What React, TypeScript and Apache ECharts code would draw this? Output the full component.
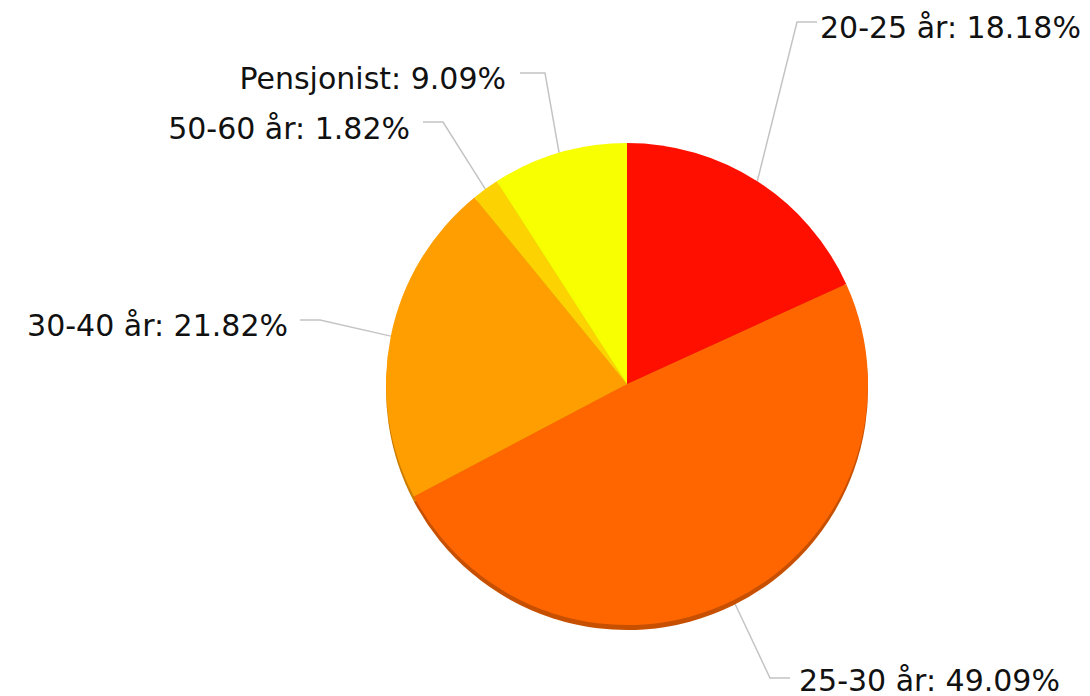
import React, { useEffect, useRef } from "react";
import * as echarts from "echarts";

const categories = ["20-25 år", "25-30 år", "30-40 år", "50-60 år", "Pensjonist"];
const counts = [10, 27, 12, 1, 5];
const colors = ["#FF0F00", "#FF6600", "#FF9E01", "#FCD202", "#F8FF01"];
const depthColors = ["#c90c00", "#c75000", "#c97c01", "#c9a702", "#c4ca01"];

// label placement (layout only)
const labelAnchors = [
  { x: 820, y: 27, align: "left", lineY: 22, elbowX: 797, endX: 817 },
  { x: 799, y: 680, align: "left", lineY: 678, elbowX: 770, endX: 790 },
  { x: 288, y: 325, align: "right", lineY: 320, elbowX: 320, endX: 300 },
  { x: 410, y: 128, align: "right", lineY: 122, elbowX: 443, endX: 423 },
  { x: 506, y: 78, align: "right", lineY: 73, elbowX: 545, endX: 520 },
];

export default function App() {
  const ref = useRef<HTMLDivElement>(null);
  useEffect(() => {
    if (!ref.current) return;
    const chart = echarts.init(ref.current, undefined, { renderer: "svg" });
    const data = categories.map((name, i) => ({
      name,
      value: counts[i],
      itemStyle: { color: colors[i] },
    }));
    const depthData = categories.map((name, i) => ({
      name,
      value: counts[i],
      itemStyle: { color: depthColors[i] },
    }));
    chart.setOption({
      animation: false,
      backgroundColor: "#ffffff",
      series: [
        {
          type: "pie",
          silent: true,
          center: [627, 389],
          radius: 241,
          startAngle: 90,
          clockwise: true,
          label: { show: false },
          labelLine: { show: false },
          data: depthData,
        },
        {
          type: "pie",
          center: [627, 384],
          radius: 241,
          startAngle: 90,
          clockwise: true,
          avoidLabelOverlap: false,
          itemStyle: { borderWidth: 0 },
          label: {
            show: true,
            formatter: "{b}: {d}%",
            color: "#111111",
            fontFamily: "DejaVu Sans, Verdana, sans-serif",
            fontSize: 30,
            lineHeight: 28,
          },
          labelLine: {
            show: true,
            lineStyle: { color: "#c4c4c4", width: 1.5 },
          },
          labelLayout: (p: any) => {
            const a = labelAnchors[p.dataIndex];
            const start = p.labelLinePoints ? p.labelLinePoints[0] : [a.elbowX, a.lineY];
            return {
              x: a.x,
              y: a.y,
              align: a.align,
              verticalAlign: "middle",
              labelLinePoints: [start, [a.elbowX, a.lineY], [a.endX, a.lineY]],
            };
          },
          data,
        },
      ],
    });
    return () => chart.dispose();
  }, []);
  return (
    <div
      ref={ref}
      style={{ position: "fixed", left: 0, top: 0, width: 1090, height: 696 }}
    />
  );
}
